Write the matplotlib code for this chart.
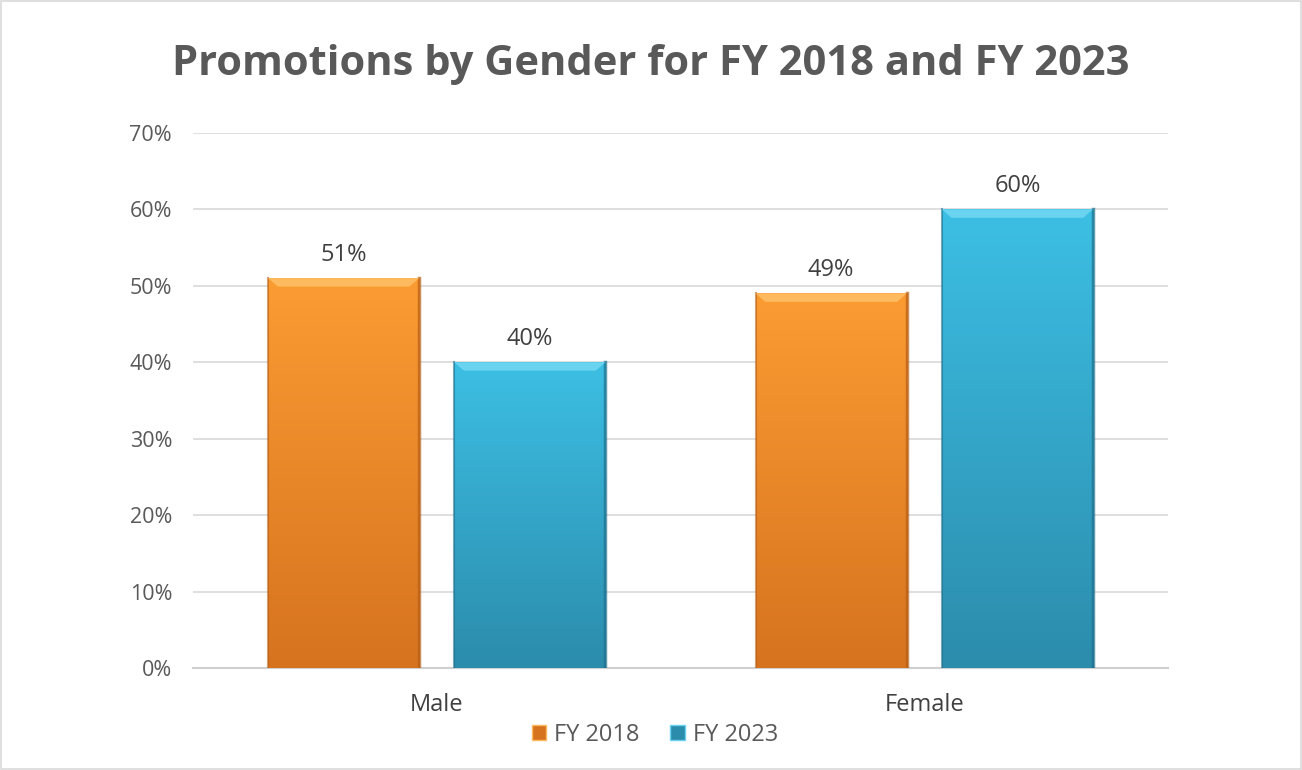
import numpy as np
import matplotlib
from matplotlib import pyplot as plt
from matplotlib.patches import Polygon, Patch
from matplotlib.colors import LinearSegmentedColormap

plt.rcParams['font.family'] = ['Open Sans', 'DejaVu Sans']

# data
categories = ['Male', 'Female']
series_names = ['FY 2018', 'FY 2023']
fy2018 = [0.51, 0.49]
fy2023 = [0.40, 0.60]

# top / bottom colours of the gradient for each series
grad = {
    'FY 2018': ('#FB9C33', '#D6731F'),
    'FY 2023': ('#3CBFE4', '#2C8CAC'),
}
bevel = {'FY 2018': '#FDBA5E', 'FY 2023': '#6AD3F0'}
side = {'FY 2018': '#B55E17', 'FY 2023': '#1F6F8C'}

fig = plt.figure(figsize=(13.02, 7.7), dpi=100)
ax = fig.add_axes([0.1482, 0.1325, 0.7489, 0.6948])

x = np.arange(len(categories))
width = 0.31
offset = 0.191

grid_img = np.linspace(1, 0, 256).reshape(-1, 1)

for name, vals, dx in [('FY 2018', fy2018, -offset), ('FY 2023', fy2023, offset)]:
    cmap = LinearSegmentedColormap.from_list(name, [grad[name][1], grad[name][0]])
    for xi, v in zip(x, vals):
        l, r = xi + dx - width / 2, xi + dx + width / 2
        ax.imshow(grid_img, cmap=cmap, extent=[l, r, 0, v], aspect='auto',
                  zorder=3, interpolation='bicubic', vmin=0, vmax=1)
        # dark side edges
        ax.plot([l, l], [0, v], color=side[name], lw=1.5, alpha=0.6, zorder=4)
        ax.plot([r, r], [0, v], color=side[name], lw=2.5, alpha=0.7, zorder=4)
        # top bevel
        b = 0.011
        ax.add_patch(Polygon([[l, v], [r, v], [r - 0.02, v - b], [l + 0.02, v - b]],
                             closed=True, facecolor=bevel[name], edgecolor='none', zorder=5))
        ax.text(xi + dx, v + 0.0145, f'{v:.0%}', ha='center', va='bottom',
                fontsize=17, color='#404040')

ax.set_xlim(-0.5, 1.5)
ax.set_ylim(0, 0.70)
ax.set_yticks(np.arange(0, 0.71, 0.1))
ax.set_yticklabels([f'{t:.0%}' for t in np.arange(0, 0.71, 0.1)], fontsize=15.5, color='#595959')
ax.set_xticks(x)
ax.set_xticklabels(categories, fontsize=17, color='#404040')
ax.tick_params(axis='y', length=0, pad=15)
ax.tick_params(axis='x', length=0, pad=18)
ax.yaxis.grid(True, color='#D9D9D9', lw=1.2, zorder=0)
ax.set_axisbelow(True)
for s in ['top', 'right', 'left']:
    ax.spines[s].set_visible(False)
ax.spines['bottom'].set_color('#D0D0D0')
ax.spines['bottom'].set_linewidth(1.5)

fig.text(0.5, 0.916, 'Promotions by Gender for FY 2018 and FY 2023', ha='center', va='center',
         fontsize=30, fontweight='bold', color='#595959')

handles = [Patch(facecolor=grad[n][1], edgecolor=bevel[n], label=n) for n in series_names]
fig.legend(handles=handles, loc='center', bbox_to_anchor=(0.503, 0.046), ncol=2, frameon=False,
           fontsize=17, labelcolor='#595959', handlelength=0.6, handleheight=0.6,
           handletextpad=0.35, columnspacing=1.3)

# chart border
fig.patches.append(matplotlib.patches.Rectangle((0.001, 0.001), 0.998, 0.998, transform=fig.transFigure,
                                                fill=False, edgecolor='#D9D9D9', lw=1.2))

plt.savefig('out.png', dpi=100)
